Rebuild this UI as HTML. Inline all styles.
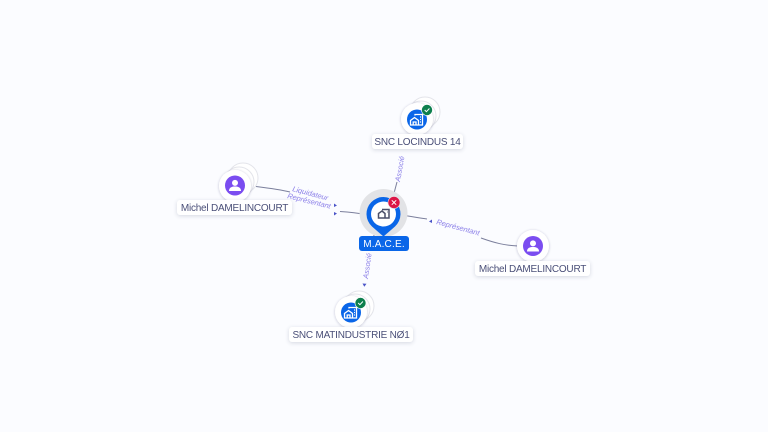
<!DOCTYPE html>
<html><head><meta charset="utf-8">
<style>
html,body{margin:0;padding:0;background:#fbfcff;}
#c{position:relative;width:768px;height:432px;overflow:hidden;background:#fbfcff;font-family:"Liberation Sans",sans-serif;}
svg{position:absolute;left:0;top:0;}
.lb{position:absolute;background:#fff;color:#4a4f78;font-size:10px;letter-spacing:-.22px;line-height:17px;height:15px;text-align:center;border-radius:3px;box-shadow:0 1px 4px rgba(40,50,90,.18);white-space:nowrap;}
</style></head><body><div id="c">
<svg width="768" height="432" viewBox="0 0 768 432">
<defs>
<filter id="s" x="-40%" y="-40%" width="180%" height="180%"><feDropShadow dx="0" dy="0.5" stdDeviation="1.2" flood-color="#283060" flood-opacity=".3"/></filter>
<g id="bld" fill="none" stroke="#fff" stroke-width="1.3"><path d="M-6.5 5V0.5L-2.5 -2.500 1.500 0.500V5ZM-2 -4.500V-5.500H5.500V5H1.500M-3.800 5V2H-1V5M3 -3H4M3 -.5H4M3 2H4"/></g>
<g id="per" fill="#fff"><circle cx="0" cy="-2.600" r="3"/><path d="M-6 5.500C-6 1.800 -3 1 0 1S6 1.800 6 5.500Z"/></g>
</defs>

<!-- connectors -->
<g fill="none" stroke="#7b7f9c" stroke-width="1">
<path d="M256 186.500C268 188 280 189.500 290 192"/>
<path d="M340 211.500C350 212 358 213 368 215"/>
<path d="M400 215C410 216 418 218 427 219"/>
<path d="M481 238C495 243 505 245.500 518 246"/>
<path d="M397 182L393 197"/>
<path d="M374 235L372 250"/>
</g>

<!-- connector labels -->
<g font-family="Liberation Sans,sans-serif" font-size="7.400" fill="#8a7ee8" font-style="italic">
<text transform="translate(292 191) rotate(15)">Liquidateur</text>
<text transform="translate(287 198) rotate(14)">Représentant</text>
<text transform="translate(436 224) rotate(15)">Représentant</text>
<text transform="translate(400 182) rotate(-80)">Associé</text>
<text transform="translate(368 279) rotate(-82)">Associé</text>
</g>
<g fill="#4b55c8">
<path d="M334 203.500l3 2-3 1.500z"/>
<path d="M334 212l3 1.500-3 2z"/>
<path d="M432 219.500l-3 2 3 1.500z"/>
<path d="M362.500 283.500l4 .3-2.200 3z"/>
</g>

<!-- SNC LOCINDUS -->
<g fill="#fff" stroke="#e3e4ea" stroke-width="1">
<circle cx="425" cy="112" r="15"/><circle cx="421" cy="116" r="15"/>
</g>
<circle cx="417" cy="119" r="16" fill="#fff" filter="url(#s)"/>
<circle cx="417" cy="119.500" r="10" fill="#0a66e8"/>
<use href="#bld" x="417" y="120"/>
<circle cx="427" cy="110" r="5.500" fill="#0d7f4d" stroke="#fff" stroke-width=".6"/>
<path d="M424.700 110l1.700 1.700 3-3.200" fill="none" stroke="#fff" stroke-width="1"/>

<!-- SNC MATINDUSTRIE -->
<g fill="#fff" stroke="#e3e4ea" stroke-width="1">
<circle cx="359" cy="306" r="15"/><circle cx="355" cy="309" r="15"/>
</g>
<circle cx="351" cy="312" r="16" fill="#fff" filter="url(#s)"/>
<circle cx="351" cy="312.500" r="10" fill="#0a66e8"/>
<use href="#bld" x="351" y="313"/>
<circle cx="360.500" cy="303" r="5.500" fill="#0d7f4d" stroke="#fff" stroke-width=".6"/>
<path d="M358.200 303l1.700 1.700 3-3.200" fill="none" stroke="#fff" stroke-width="1"/>

<!-- Michel left -->
<g fill="#fff" stroke="#e3e4ea" stroke-width="1">
<circle cx="243" cy="178" r="15"/><circle cx="239" cy="182" r="15"/>
</g>
<circle cx="235" cy="186" r="16" fill="#fff" filter="url(#s)"/>
<circle cx="235" cy="185.500" r="10" fill="#7b4df0"/>
<use href="#per" x="235" y="185.500"/>

<!-- Michel right -->
<circle cx="533" cy="246" r="16" fill="#fff" filter="url(#s)"/>
<circle cx="533" cy="246" r="10" fill="#7b4df0"/>
<use href="#per" x="533" y="246"/>

<!-- M.A.C.E. -->
<circle cx="383.500" cy="213" r="24" fill="#e2e3e6"/>
<path d="M383.500 236.500L372 226.500A17 17 0 1 1 395 226.500Z" fill="#0a66e8"/>
<circle cx="383.500" cy="214" r="12.500" fill="#fff"/>
<g fill="none" stroke="#4a4f68" stroke-width="1.500"><path d="M378.500 218V213.500L382 211 385 213.500V218ZM382 209.500H389V218H385M387 212H387.500"/></g>
<circle cx="394" cy="202.500" r="6" fill="#dc1546" stroke="#e9e2e6" stroke-width=".6"/>
<path d="M391.800 200.300l4.400 4.400m0-4.400l-4.400 4.400" stroke="#fff" stroke-width="1"/>
</svg>

<div class="lb" style="left:372px;top:134px;width:91px;">SNC LOCINDUS 14</div>
<div class="lb" style="left:177px;top:200px;width:115px;">Michel DAMELINCOURT</div>
<div class="lb" style="left:475px;top:261px;width:115px;">Michel DAMELINCOURT</div>
<div class="lb" style="left:289px;top:327px;width:124px;">SNC MATINDUSTRIE NØ1</div>
<div class="lb" style="left:359px;top:236px;width:50px;background:#0a66e8;color:#fff;box-shadow:none;letter-spacing:.2px;">M.A.C.E.</div>
</div></body></html>
